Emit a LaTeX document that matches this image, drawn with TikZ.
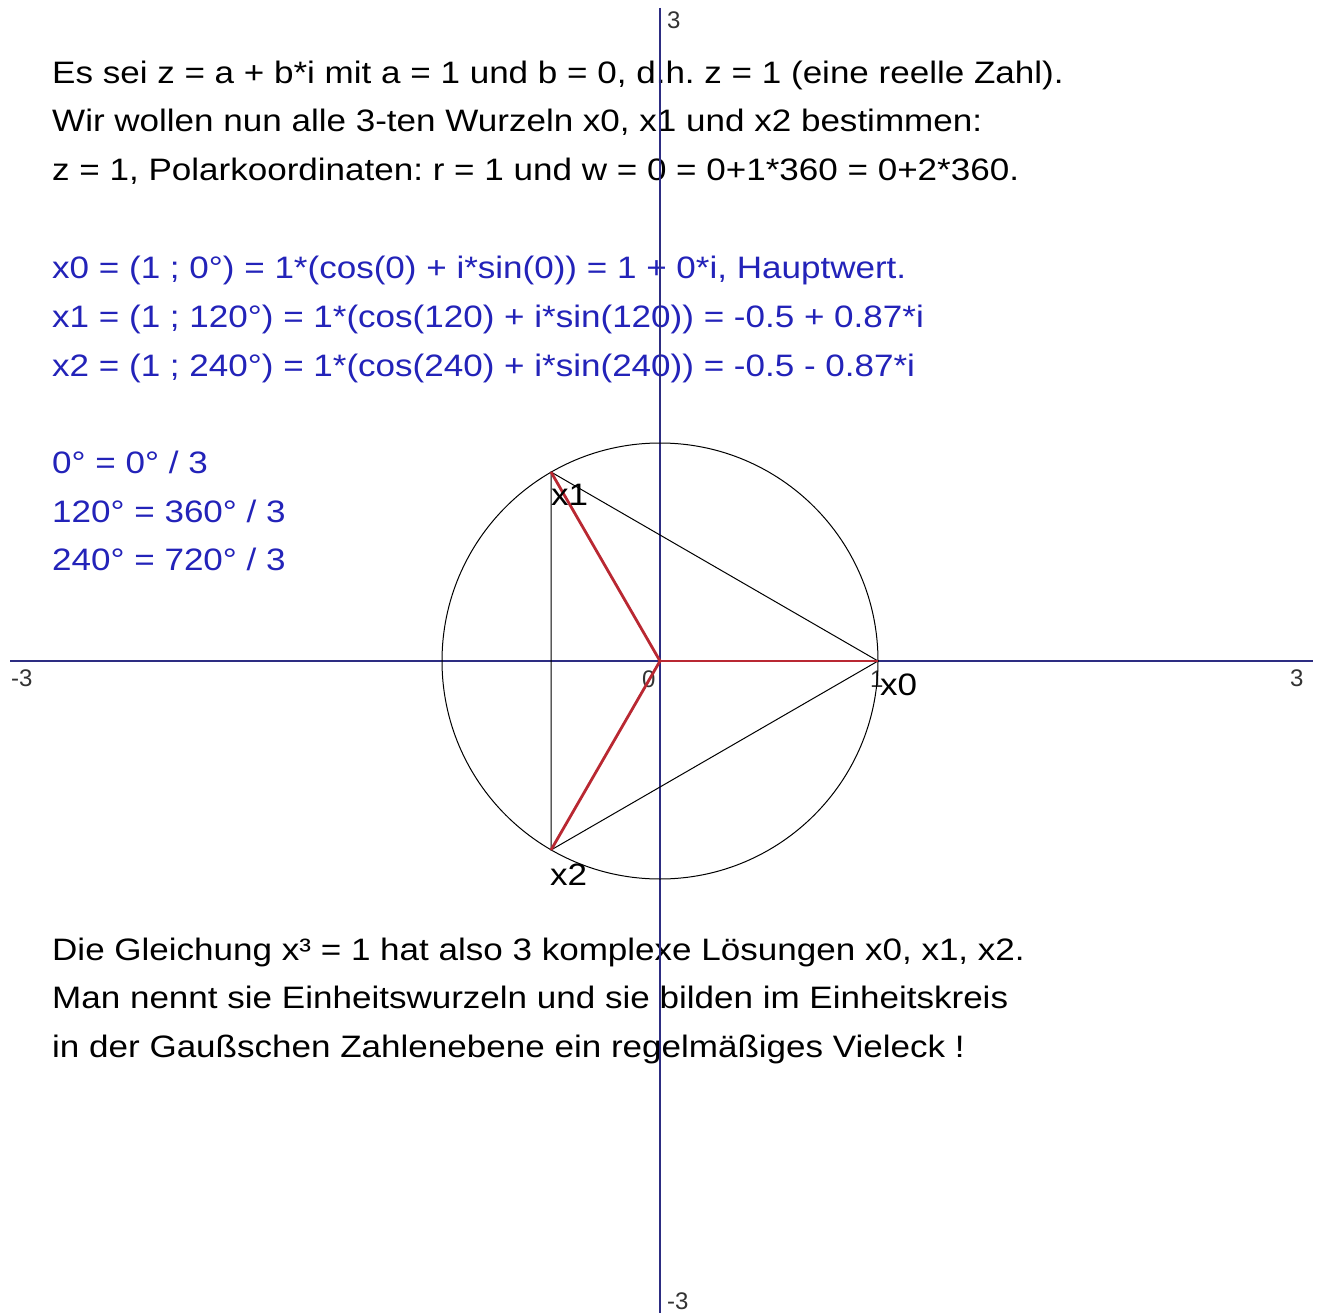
\documentclass[tikz,border=0pt]{standalone}
\usepackage{fontspec}
\setmainfont{Liberation Sans}
\newfontfamily\widefont[FakeStretch=1.13]{Liberation Sans}
\definecolor{axiscol}{RGB}{45,45,130}
\definecolor{txtblue}{RGB}{35,35,185}
\definecolor{rootred}{RGB}{185,40,50}
\begin{document}
\frenchspacing
\begin{tikzpicture}[x=1pt,y=-1pt,
  maintext/.style={anchor=base west,inner sep=0pt,font=\widefont\fontsize{31}{36}\selectfont},
  bluetext/.style={maintext,text=txtblue},
  ticklabel/.style={anchor=base west,inner sep=0pt,font=\fontsize{24}{28}\selectfont,text=black!80},
  ptlabel/.style={anchor=base west,inner sep=0pt,font=\widefont\fontsize{31}{36}\selectfont},
  axisline/.style={draw=axiscol,line width=1.3pt},
  rootline/.style={draw=rootred,line width=2.8pt},
  thinline/.style={draw=black,line width=1pt}]
\useasboundingbox[fill=white] (0,0) rectangle (1319,1313);
% text
\node[maintext] (t1) at (52,84) {Es sei z = a + b*i mit a = 1 und b = 0, d.h. z = 1 (eine reelle Zahl).};
\node[maintext] (t2) at (52,132) {Wir wollen nun alle 3-ten Wurzeln x0, x1 und x2 bestimmen:};
\node[maintext] (t3) at (52,181) {z = 1, Polarkoordinaten: r = 1 und w = 0 = 0+1*360 = 0+2*360.};
\node[bluetext] (b1) at (52,279) {x0 = (1 ; 0°) = 1*(cos(0) + i*sin(0)) = 1 + 0*i, Hauptwert.};
\node[bluetext] (b2) at (52,328) {x1 = (1 ; 120°) = 1*(cos(120) + i*sin(120)) = -0.5 + 0.87*i};
\node[bluetext] (b3) at (52,376) {x2 = (1 ; 240°) = 1*(cos(240) + i*sin(240)) = -0.5 - 0.87*i};
\node[bluetext] (a1) at (52,473) {0° = 0° / 3};
\node[bluetext] (a2) at (52,522) {120° = 360° / 3};
\node[bluetext] (a3) at (52,570) {240° = 720° / 3};
\node[maintext] (d1) at (52,960) {Die Gleichung x³ = 1 hat also 3 komplexe Lösungen x0, x1, x2.};
\node[maintext] (d2) at (52,1008) {Man nennt sie Einheitswurzeln und sie bilden im Einheitskreis};
\node[maintext] (d3) at (52,1057) {in der Gaußschen Zahlenebene ein regelmäßiges Vieleck !};
% axes
\coordinate (O) at (660,661);
\coordinate (L) at (10,661);
\coordinate (R) at (1313,661);
\coordinate (T) at (660,8);
\coordinate (B) at (660,1313);
\draw[axisline] (L) -- (R);
\draw[axisline] (T) -- (B);
\node[ticklabel] (lm3) at (11,686) {-3};
\node[ticklabel] (lp3) at (1290,686) {3};
\node[ticklabel] (tp3) at (667,29) {3};
\node[ticklabel] (bm3) at (667,1309) {-3};
\node[ticklabel] (l0) at (642,687) {0};
\node[ticklabel] (l1) at (870,687) {1};
% roots
\coordinate (X0) at (878,661);
\coordinate (X1) at (551,472);
\coordinate (X2) at (551,850);
\draw[thinline] (O) circle[radius=218];
\draw[thinline] (X0) -- (X1) -- (X2) -- cycle;
\draw[rootline] (O) -- (X0);
\draw[rootline] (O) -- (X1);
\draw[rootline] (O) -- (X2);
\node[ptlabel] (n1) at (551,505) {x1};
\node[ptlabel] (n0) at (880,695) {x0};
\node[ptlabel] (n2) at (550,885) {x2};
\end{tikzpicture}
\end{document}
